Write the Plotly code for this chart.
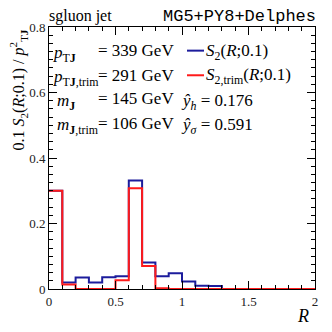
import plotly.graph_objects as go

# bin edges in R (width 0.1) and per-bin values
r_edges = [round(0.1 * i, 1) for i in range(21)]
s2_full = [0.300, 0.020, 0.035, 0.020, 0.036, 0.039, 0.331, 0.081, 0.039, 0.048,
           0.023, 0.010, 0.009, 0.0, 0.0, 0.0, 0.0, 0.0, 0.0, 0.0]
s2_trim = [0.300, 0.014, 0.0, 0.0, 0.0, 0.027, 0.308, 0.070, 0.002, 0.0,
           0.0, 0.0, 0.0, 0.0, 0.0, 0.0, 0.0, 0.0, 0.0, 0.0]

BLUE = "#1c1c9c"
RED = "#ff1a1a"
SERIF = "Liberation Serif, Times New Roman, serif"

# page body adds an 8px offset; figure is sized so the frame lands at 49..315 / 23..289
OFF = 8
W = H = 332 - OFF
L, R_, T, B = 49 - OFF, 315 - OFF, 23 - OFF, 289 - OFF


def px(x):
    return (x - OFF - L) / (R_ - L)


def py(y):
    return (B - (y - OFF)) / (B - T)


fig = go.Figure()
for vals, col in [(s2_full, BLUE), (s2_trim, RED)]:
    fig.add_trace(go.Scatter(
        x=r_edges, y=vals + [vals[-1]], mode="lines",
        line=dict(color=col, width=2, shape="hv"),
        showlegend=False, hoverinfo="skip",
    ))

ax = dict(showline=True, linecolor="black", linewidth=1, mirror="ticks",
          ticks="inside", ticklen=8, tickcolor="black", showgrid=False,
          zeroline=False, ticklabeloverflow="allow",
          tickfont=dict(family=SERIF, size=13, color="#222"))
fig.update_xaxes(range=[0, 2], tickvals=[0, 0.5, 1, 1.5, 2], ticktext=["0", "0.5", "1", "1.5", "2"],
                 minor=dict(dtick=0.1, ticks="inside", ticklen=4, tickcolor="black"), **ax)
fig.update_yaxes(range=[0, 0.8], tickvals=[0, 0.2, 0.4, 0.6, 0.8], ticktext=["0", "0.2", "0.4", "0.6", "0.8"],
                 minor=dict(dtick=0.025, ticks="inside", ticklen=4, tickcolor="black"), **ax)

ann = []


def txt(x, y, s, size=17, family=SERIF, xa="left", ya="middle", angle=0):
    ann.append(dict(x=px(x), y=py(y), xref="paper", yref="paper", text=s,
                    showarrow=False, xanchor=xa, yanchor=ya, textangle=angle,
                    font=dict(family=family, size=size, color="black")))


txt(47, 12, "sgluon jet", size=16)
txt(318, 12, "MG5+PY8+Delphes", size=17, family="Liberation Mono, Courier New, monospace", xa="right")
txt(311, 316, "<i>R</i>", size=18, xa="right")
txt(19, 24, "0.1 <i>S</i><sub>2</sub>(<i>R</i>;0.1) / <i>p</i><sup>2</sup><sub>T<b>J</b></sub>",
    size=16, xa="center", ya="top", angle=-90)

# text block inside the frame
txt(51, 50, "<i>p</i><sub>T<b>J</b></sub>")
txt(96, 47, "= 339 GeV")
txt(204, 48, "<i>S</i><sub>2</sub>(<i>R</i>;0.1)")
txt(51, 75, "<i>p</i><sub>T<b>J</b>,trim</sub>")
txt(96, 72, "= 291 GeV")
txt(204, 73, "<i>S</i><sub>2,trim</sub>(<i>R</i>;0.1)")
txt(55, 99, "<i>m</i><sub><b>J</b></sub>")
txt(96, 96, "= 145 GeV")
txt(179, 99, "<i>ŷ</i><sub><i>h</i></sub> = 0.176")
txt(55, 124, "<i>m</i><sub><b>J</b>,trim</sub>")
txt(96, 121, "= 106 GeV")
txt(179, 124, "<i>ŷ</i><sub><i>σ</i></sub> = 0.591")

shapes = [
    dict(type="line", xref="paper", yref="paper", x0=px(187), x1=px(204), y0=py(47), y1=py(47),
         line=dict(color=BLUE, width=2)),
    dict(type="line", xref="paper", yref="paper", x0=px(187), x1=px(204), y0=py(72), y1=py(72),
         line=dict(color=RED, width=2)),
]

fig.update_layout(
    width=W, height=H,
    margin=dict(l=L, r=W - R_, t=T, b=H - B),
    paper_bgcolor="white", plot_bgcolor="white",
    annotations=ann, shapes=shapes,
)

fig.write_html("out.html")
